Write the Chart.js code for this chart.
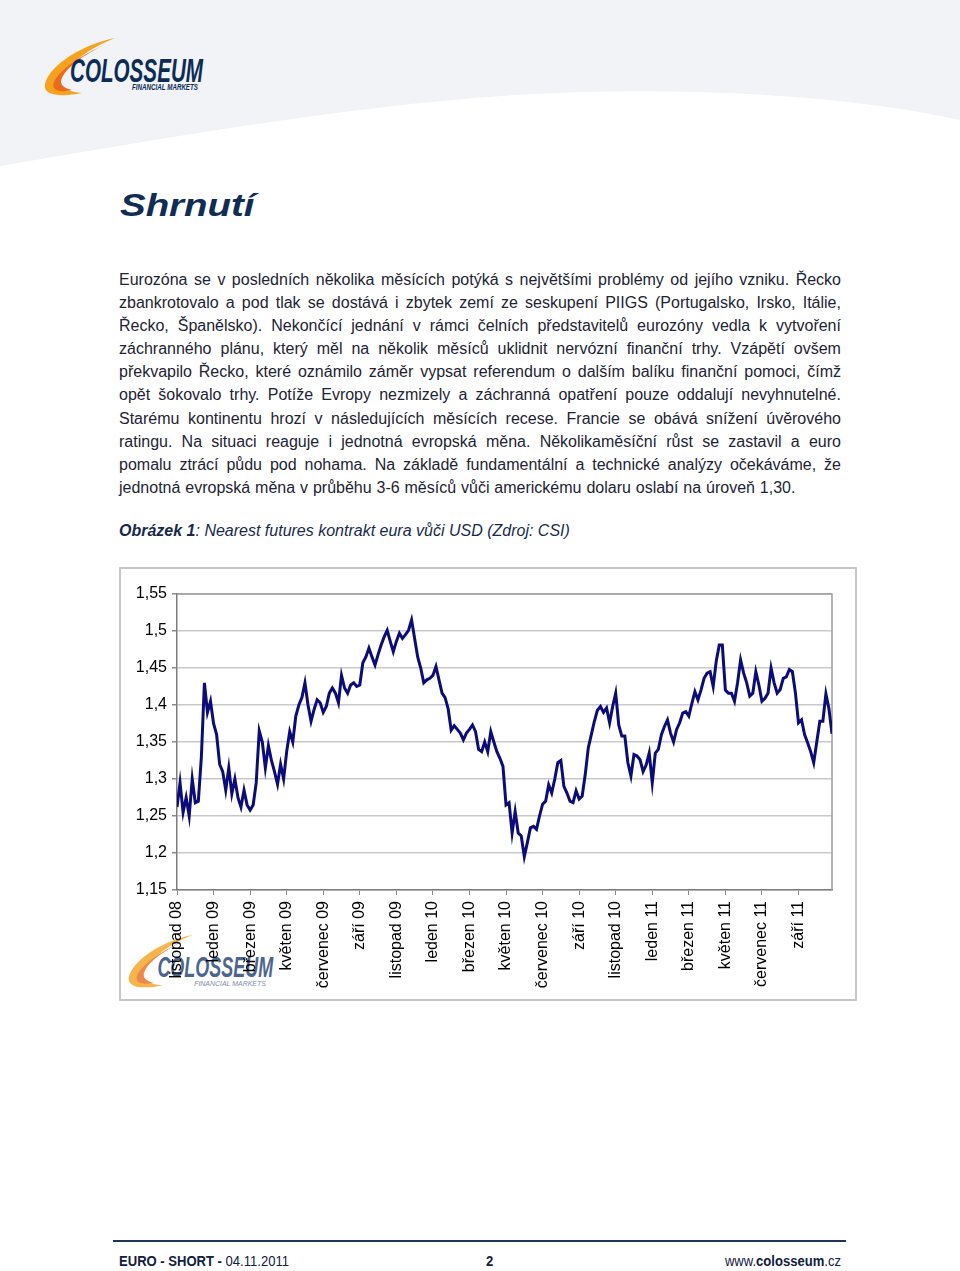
<!DOCTYPE html>
<html lang="cs">
<head>
<meta charset="utf-8">
<title>EURO - SHORT - Shrnutí</title>
<script src="https://cdn.jsdelivr.net/npm/chart.js@4.4.1/dist/chart.umd.min.js"></script>
<style>
  html, body { margin: 0; padding: 0; background: #fff; }
  body { width: 960px; height: 1271px; position: relative; overflow: hidden; font-family: Arial, "Liberation Sans", sans-serif; }
  .abs { position: absolute; }
  #title { left: 120px; top: 186px; margin: 0; font-size: 31px; line-height: 40px; font-weight: bold; font-style: italic; color: #0f2d55; transform: scaleX(1.24); transform-origin: left top; }
  #summary { left: 119px; top: 268px; width: 722px; font-size: 16px; color: #1d2433; }
  #summary .line { display: flex; justify-content: space-between; height: 23.1px; line-height: 23.1px; white-space: nowrap; }
  #summary .line.last { justify-content: flex-start; gap: 4.9px; }
  #caption { left: 119px; top: 519px; font-size: 16px; line-height: 23px; font-style: italic; color: #172a4c; white-space: nowrap; }
  #chartBox { left: 119px; top: 567px; width: 738px; height: 434px; box-sizing: border-box; border: 2px solid #c6c6c6; background: #fff; }
  #watermark { left: 128px; top: 933px; opacity: 0.8; }
  #chartWrap { left: 120px; top: 568px; width: 736px; height: 432px; }
  #footerRule { left: 113px; top: 1240px; width: 733px; height: 2px; background: #1d3358; }
  .foot { top: 1252px; font-size: 14.5px; line-height: 18px; color: #10203f; white-space: nowrap; transform: scaleX(0.9); }
  #footLeft { left: 119px; transform-origin: left top; }
  #footPage { left: 486px; font-weight: bold; transform-origin: left top; }
  #footRight { right: 119px; transform-origin: right top; }
</style>
</head>
<body>

<svg class="abs" style="left:0;top:0" width="960" height="175">
  <path d="M0,0 H960 V120 C860,98 720,88 580,92 C380,98 170,138 0,166 Z" fill="#f1f3f6"/>
</svg>

<svg class="abs" style="left:44px;top:36px" width="160" height="62" viewBox="0 0 160 62">
  <path d="M71,2 C40,8 6,28 1,48 C-1,58 12,62 38,57 C22,56 14,50 18,42 C26,26 46,12 71,2 Z" fill="#f6a21c"/>
  <path d="M60,9 C38,19 16,33 10,46 C7,54 14,57 28,54 C18,52 15,47 18,41 C24,30 40,19 60,9 Z" fill="#ea6a1f"/>
  <text x="26" y="46" font-family="Liberation Sans Narrow, Arial Narrow, Arial" font-size="33" font-weight="bold" font-style="italic" fill="#0c2c58" textLength="133" lengthAdjust="spacingAndGlyphs">COLOSSEUM</text>
  <text x="88" y="54" font-family="Liberation Sans Narrow, Arial Narrow, Arial" font-size="8.5" font-weight="bold" font-style="italic" fill="#0c2c58" textLength="66" lengthAdjust="spacingAndGlyphs">FINANCIAL MARKETS</text>
</svg>

<h1 id="title" class="abs">Shrnutí</h1>
<div id="summary" class="abs"></div>
<div id="caption" class="abs"><b>Obrázek 1</b>: Nearest futures kontrakt eura vůči USD (Zdroj: CSI)</div>

<div id="chartBox" class="abs"></div>
<svg id="watermark" class="abs" width="147" height="57" viewBox="0 0 160 62">
  <path d="M71,2 C40,8 6,28 1,48 C-1,58 12,62 38,57 C22,56 14,50 18,42 C26,26 46,12 71,2 Z" fill="#f6a21c"/>
  <path d="M60,9 C38,19 16,33 10,46 C7,54 14,57 28,54 C18,52 15,47 18,41 C24,30 40,19 60,9 Z" fill="#ea6a1f"/>
  <text x="32" y="48" font-family="Liberation Sans Narrow, Arial Narrow, Arial" font-size="33" font-weight="bold" font-style="italic" fill="#1f3f78" textLength="126" lengthAdjust="spacingAndGlyphs">COLOSSEUM</text>
  <text x="72" y="58" font-family="Liberation Sans Narrow, Arial Narrow, Arial" font-size="7" font-style="italic" fill="#5a6f94" textLength="78" lengthAdjust="spacingAndGlyphs">FINANCIAL MARKETS</text>
</svg>
<div id="chartWrap" class="abs"><canvas id="euroChart" width="736" height="432"></canvas></div>

<div id="footerRule" class="abs"></div>
<div id="footLeft" class="abs foot"><b>EURO - SHORT - </b>04.11.2011</div>
<div id="footPage" class="abs foot">2</div>
<div id="footRight" class="abs foot">www.<b>colosseum</b>.cz</div>

<script>
// Summary text, one entry per printed line
const summaryLines = [
    'Eurozóna se v posledních několika měsících potýká s největšími problémy od jejího vzniku. Řecko',
    'zbankrotovalo a pod tlak se dostává i zbytek zemí ze seskupení PIIGS (Portugalsko, Irsko, Itálie,',
    'Řecko, Španělsko). Nekončící jednání v rámci čelních představitelů eurozóny vedla k vytvoření',
    'záchranného plánu, který měl na několik měsíců uklidnit nervózní finanční trhy. Vzápětí ovšem',
    'překvapilo Řecko, které oznámilo záměr vypsat referendum o dalším balíku finanční pomoci, čímž',
    'opět šokovalo trhy. Potíže Evropy nezmizely a záchranná opatření pouze oddalují nevyhnutelné.',
    'Starému kontinentu hrozí v následujících měsících recese. Francie se obává snížení úvěrového',
    'ratingu. Na situaci reaguje i jednotná evropská měna. Několikaměsíční růst se zastavil a euro',
    'pomalu ztrácí půdu pod nohama. Na základě fundamentální a technické analýzy očekáváme, že',
    'jednotná evropská měna v průběhu 3-6 měsíců vůči americkému dolaru oslabí na úroveň 1,30.'
];

// X axis: one label every two months
const monthLabels = [
    'listopad 08', 'leden 09', 'březen 09', 'květen 09', 'červenec 09', 'září 09',
    'listopad 09', 'leden 10', 'březen 10', 'květen 10', 'červenec 10', 'září 10',
    'listopad 10', 'leden 11', 'březen 11', 'květen 11', 'červenec 11', 'září 11'
];
const monthsPerLabel = 2;

// Y axis
const yTicks = [1.15, 1.2, 1.25, 1.3, 1.35, 1.4, 1.45, 1.5, 1.55];
const yTickLabels = ['1,15', '1,2', '1,25', '1,3', '1,35', '1,4', '1,45', '1,5', '1,55'];

// EUR/USD nearest futures, about one value every 5 days (6 per month)
const pointsPerMonth = 6;
const eurUsd2008 = [ // listopad - prosinec
    1.262, 1.295, 1.255, 1.275, 1.250, 1.300, 1.268, 1.270, 1.330, 1.430, 1.390, 1.405
];
const eurUsd2009 = [
    1.375, 1.360, 1.320, 1.310, 1.285, 1.315, 1.280, 1.300, 1.275, 1.262, 1.285, 1.265,
    1.258, 1.265, 1.295, 1.365, 1.350, 1.315, 1.345, 1.325, 1.310, 1.293, 1.320, 1.300,
    1.337, 1.364, 1.350, 1.385, 1.400, 1.410, 1.430, 1.400, 1.378, 1.394, 1.407, 1.403,
    1.390, 1.398, 1.416, 1.423, 1.416, 1.403, 1.440, 1.423, 1.416, 1.427, 1.430, 1.425,
    1.427, 1.457, 1.465, 1.477, 1.465, 1.454, 1.468, 1.481, 1.492, 1.501, 1.486, 1.472,
    1.486, 1.497, 1.490, 1.495, 1.501, 1.515, 1.490, 1.465, 1.450, 1.430, 1.434, 1.436
];
const eurUsd2010 = [
    1.440, 1.452, 1.434, 1.416, 1.410, 1.395, 1.366, 1.372, 1.367, 1.362, 1.353, 1.362,
    1.367, 1.373, 1.364, 1.340, 1.337, 1.350, 1.337, 1.364, 1.350, 1.337, 1.328, 1.317,
    1.265, 1.268, 1.227, 1.256, 1.227, 1.223, 1.195, 1.214, 1.234, 1.236, 1.232, 1.250,
    1.266, 1.270, 1.292, 1.281, 1.300, 1.322, 1.325, 1.290, 1.281, 1.270, 1.268, 1.284,
    1.273, 1.277, 1.306, 1.342, 1.360, 1.378, 1.393, 1.398, 1.390, 1.396, 1.376, 1.398,
    1.416, 1.373, 1.358, 1.358, 1.322, 1.304, 1.333, 1.331, 1.326, 1.310, 1.319, 1.335
];
const eurUsd2011 = [ // leden - začátek listopadu
    1.295, 1.335, 1.340, 1.360, 1.371, 1.380, 1.362, 1.350, 1.367, 1.376, 1.389, 1.391,
    1.385, 1.402, 1.418, 1.407, 1.420, 1.436, 1.443, 1.445, 1.425, 1.459, 1.481, 1.481,
    1.420, 1.416, 1.416, 1.405, 1.430, 1.461, 1.443, 1.430, 1.412, 1.416, 1.445, 1.427,
    1.405, 1.409, 1.416, 1.450, 1.430, 1.416, 1.421, 1.436, 1.438, 1.448, 1.445, 1.416,
    1.376, 1.380, 1.360, 1.349, 1.337, 1.322, 1.350, 1.378, 1.378, 1.415, 1.395, 1.361
];

const series = [...eurUsd2008, ...eurUsd2009, ...eurUsd2010, ...eurUsd2011];

// Summary lines (justified, last one left)
const summary = document.getElementById('summary');
summaryLines.forEach((text, i) => {
    const line = document.createElement('div');
    line.className = 'line' + (i === summaryLines.length - 1 ? ' last' : '');
    line.innerHTML = text.split(' ').map(w => `<span>${w}</span>`).join('');
    summary.appendChild(line);
});

// Top and right edge of the plot area
const plotFrame = {
    id: 'plotFrame',
    beforeDatasetsDraw(chart) {
        const { ctx, chartArea: a } = chart;
        ctx.save();
        ctx.strokeStyle = '#9c9c9c';
        ctx.lineWidth = 1.5;
        ctx.beginPath();
        ctx.moveTo(a.left, a.top);
        ctx.lineTo(a.right, a.top);
        ctx.lineTo(a.right, a.bottom);
        ctx.stroke();
        ctx.restore();
    }
};

const tickFont = { family: 'Arial, "Liberation Sans", sans-serif', size: 16 };

new Chart(document.getElementById('euroChart'), {
    type: 'line',
    data: {
        datasets: [{
            data: series.map((v, i) => ({ x: i / pointsPerMonth, y: v })),
            borderColor: '#0b0b7e',
            borderWidth: 3,
            pointRadius: 0,
            tension: 0,
            fill: false
        }]
    },
    options: {
        responsive: false,
        animation: false,
        layout: { padding: { top: 26, right: 24, left: 0, bottom: 0 } },
        plugins: {
            legend: { display: false },
            tooltip: { enabled: false }
        },
        scales: {
            x: {
                type: 'linear',
                min: 0,
                max: (series.length - 1) / pointsPerMonth,
                afterBuildTicks: scale => {
                    scale.ticks = monthLabels.map((_, k) => ({ value: k * monthsPerLabel }));
                },
                afterFit: scale => { scale.height = 110; },
                ticks: {
                    autoSkip: false,
                    minRotation: 90,
                    maxRotation: 90,
                    padding: 6,
                    color: '#000',
                    font: tickFont,
                    callback: value => monthLabels[Math.round(value / monthsPerLabel)]
                },
                grid: {
                    drawOnChartArea: false,
                    drawTicks: true,
                    tickLength: 5,
                    tickColor: '#8a8a8a'
                },
                border: { display: true, color: '#7d7d7d', width: 1.5 }
            },
            y: {
                min: yTicks[0],
                max: yTicks[yTicks.length - 1],
                afterBuildTicks: scale => {
                    scale.ticks = yTicks.map(v => ({ value: v }));
                },
                afterFit: scale => { scale.width = 57; },
                ticks: {
                    padding: 5,
                    color: '#000',
                    font: tickFont,
                    callback: (value, index) => yTickLabels[index]
                },
                grid: {
                    color: '#c9c9c9',
                    lineWidth: 1.5,
                    tickLength: 5,
                    tickColor: '#8a8a8a'
                },
                border: { display: true, color: '#7d7d7d', width: 1.5 }
            }
        }
    },
    plugins: [plotFrame]
});
</script>
</body>
</html>
